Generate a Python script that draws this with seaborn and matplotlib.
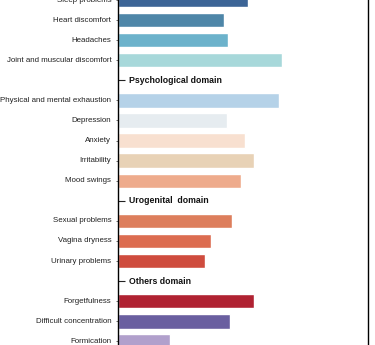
import matplotlib
matplotlib.use("Agg")
import matplotlib.pyplot as plt
import matplotlib.transforms as mtransforms
import seaborn as sns
import pandas as pd

# Row layout (top to bottom); domain headers are empty rows
rows = ["Sleep problems", "Heart discomfort", "Headaches", "Joint and muscular discomfort",
        "Psychological domain",
        "Physical and mental exhaustion", "Depression", "Anxiety", "Irritability", "Mood swings",
        "Urogenital  domain",
        "Sexual problems", "Vagina dryness", "Urinary problems",
        "Others domain",
        "Forgetfulness", "Difficult concentration", "Formication"]
domains = ["Psychological domain", "Urogenital  domain", "Others domain"]

symptoms = ["Sleep problems", "Heart discomfort", "Headaches", "Joint and muscular discomfort",
            "Physical and mental exhaustion", "Depression", "Anxiety", "Irritability", "Mood swings",
            "Sexual problems", "Vagina dryness", "Urinary problems",
            "Forgetfulness", "Difficult concentration", "Formication"]
values = [52.0, 42.4, 44.0, 65.6,
          64.4, 43.6, 50.8, 54.4, 49.2,
          45.6, 37.2, 34.8,
          54.4, 44.8, 20.8]
colors = ["#3c6496", "#4e86a8", "#6cb2cb", "#a7d8da",
          "#b5d2e8", "#e6ecf0", "#f8e0d0", "#e8d2b6", "#eeab8c",
          "#dd7e5c", "#dc6c50", "#cf4c3e",
          "#b02232", "#6a5fa0", "#b1a0cc"]

sns.set_theme(style="white")
plt.rcParams["font.family"] = ["Liberation Sans", "DejaVu Sans"]

df = pd.DataFrame({"symptom": symptoms, "value": values})
palette = dict(zip(symptoms, colors))

fig = plt.figure(figsize=(3.75, 3.45), dpi=100)
ax = fig.add_axes([118 / 375, 0, 250 / 375, 1])

sns.barplot(data=df, x="value", y="symptom", hue="symptom", order=rows,
            hue_order=symptoms, palette=palette, width=0.72, saturation=1,
            legend=False, orient="h", ax=ax)

ax.set_xlim(0, 100)
ax.set_ylim(17.18, 0.146)
ax.set_xlabel("")
ax.set_ylabel("")
ax.set_xticks([])

sym_pos = [rows.index(s) for s in symptoms]
dom_pos = [rows.index(d) for d in domains]
ax.set_yticks(sym_pos)
ax.set_yticklabels(symptoms, fontsize=5.7, color="#222222")
for lbl in ax.get_yticklabels():
    lbl.set_verticalalignment("center")
ax.tick_params(axis="y", which="major", direction="out", length=1.8, width=0.6,
               pad=3.0, color="#555555", left=True)
ax.set_yticks(dom_pos, minor=True)
ax.tick_params(axis="y", which="minor", direction="in", length=5.2, width=0.8,
               color="#222222", left=True)

trans = mtransforms.blended_transform_factory(ax.transAxes, ax.transData)
for d, p in zip(domains, dom_pos):
    ax.text(0.044, p, d, transform=trans, ha="left", va="center",
            fontsize=6.3, fontweight="bold", color="#111111")

for side in ["top", "bottom"]:
    ax.spines[side].set_visible(False)
for side in ["left", "right"]:
    ax.spines[side].set_visible(True)
    ax.spines[side].set_color("black")
    ax.spines[side].set_linewidth(1.0)

fig.savefig("out.png", dpi=100)
